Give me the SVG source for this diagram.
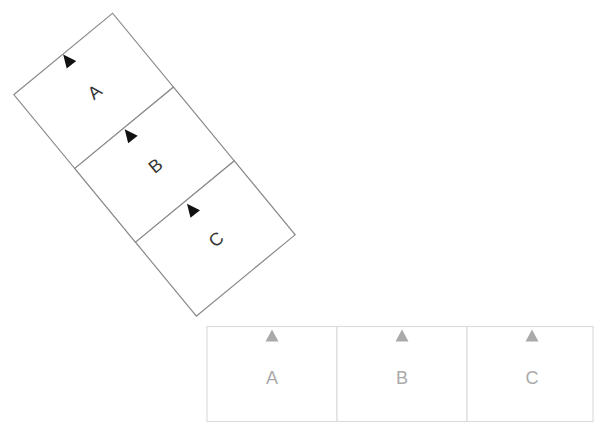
<svg xmlns="http://www.w3.org/2000/svg" width="594" height="423" viewBox="0 0 594 423">
<style>
.rbox{fill:#fff;stroke:#8a8a8a;stroke-width:1.2}
.rtxt{font-family:"Liberation Sans",Arial,sans-serif;font-size:18px;fill:#333;text-anchor:middle;dominant-baseline:central}
.rtri{fill:#111}
.gbox{fill:#fff;stroke:#dcdcdc;stroke-width:1.2}
.gtxt{font-family:"Liberation Sans",Arial,sans-serif;font-size:18px;fill:#aaa;text-anchor:middle;dominant-baseline:central}
.gtri{fill:#aaa}
</style>
<rect width="594" height="423" fill="#fff"/>
<g id="rotated-strip" transform="translate(154.5,164.7) rotate(-39.5)">
  <g id="rA"><rect class="rbox" x="-64" y="-143.5" width="128" height="95.7"/><text class="rtxt" x="0" y="-94">A</text></g>
  <g id="rB"><rect class="rbox" x="-64" y="-47.8" width="128" height="95.6"/><text class="rtxt" x="0" y="1.5">B</text></g>
  <g id="rC"><rect class="rbox" x="-64" y="47.8" width="128" height="95.7"/><text class="rtxt" x="0" y="97">C</text></g>
</g>
<g id="rotated-markers">
  <polygon class="rtri" transform="translate(68.7,61.4)" points="-5.5,-7 -2,7 7.5,-0.5"/>
  <polygon class="rtri" transform="translate(130.2,136.2)" points="-5.5,-7 -2,7 7.5,-0.5"/>
  <polygon class="rtri" transform="translate(192.5,210.8)" points="-5.5,-7 -2,7 7.5,-0.5"/>
</g>
<g id="bA"><rect class="gbox" x="207" y="326.5" width="130" height="95"/><polygon class="gtri" points="272,329.5 265.5,341.5 278.5,341.5"/><text class="gtxt" x="272" y="378">A</text></g>
<g id="bB"><rect class="gbox" x="337" y="326.5" width="130" height="95"/><polygon class="gtri" points="402,329.5 395.5,341.5 408.5,341.5"/><text class="gtxt" x="402" y="378">B</text></g>
<g id="bC"><rect class="gbox" x="467" y="326.5" width="126" height="95"/><polygon class="gtri" points="532,329.5 525.5,341.5 538.5,341.5"/><text class="gtxt" x="532" y="378">C</text></g>
<g id="connectors"/>
</svg>
